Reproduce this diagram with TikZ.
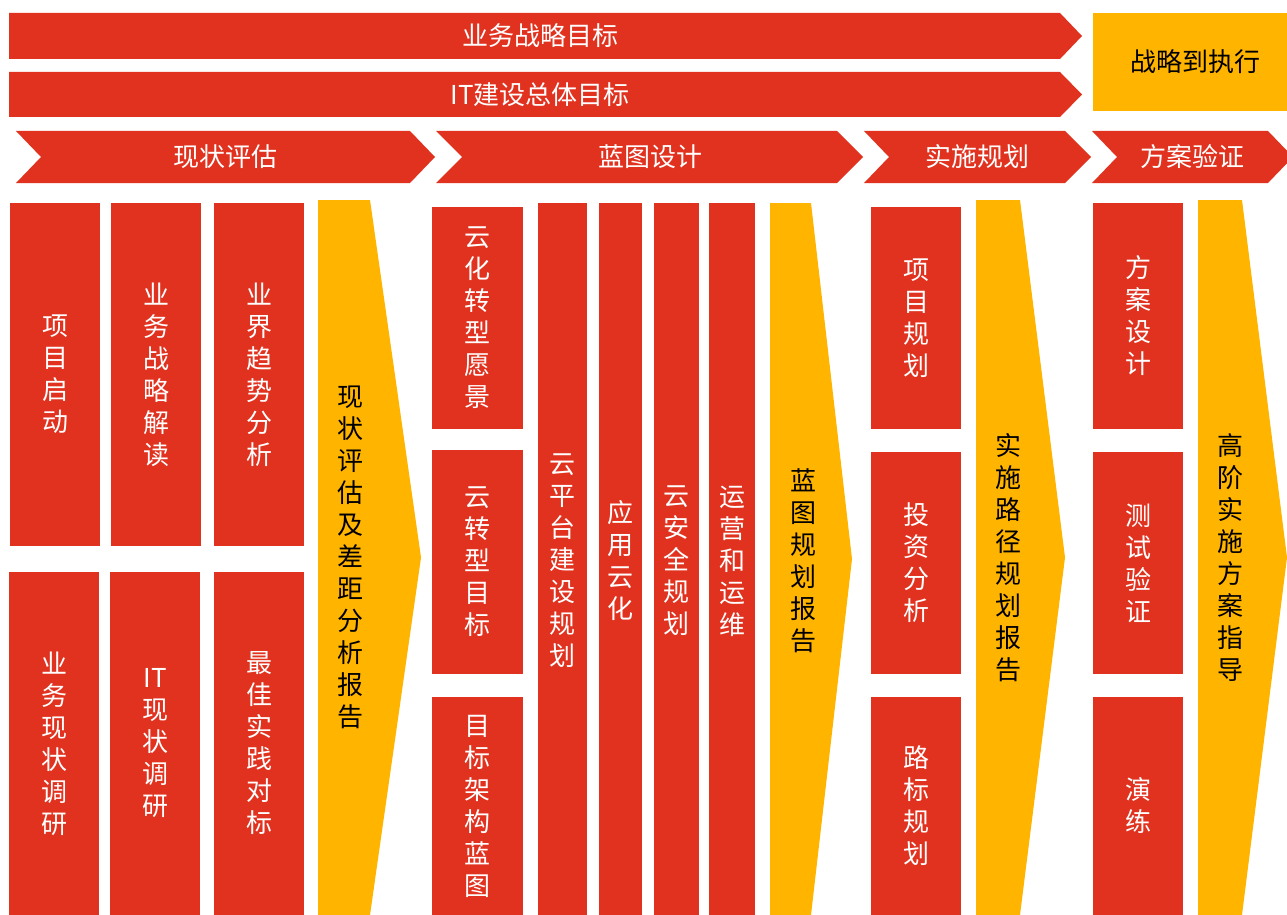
\documentclass[tikz,border=0pt]{standalone}
\usepackage{fontspec}
\newfontfamily\cjk{Noto Sans CJK SC}
\definecolor{planred}{HTML}{E1321F}
\definecolor{planyellow}{HTML}{FFB400}

\tikzset{
  redfill/.style={fill=planred},
  yellowfill/.style={fill=planyellow},
  whitetext/.style={text=white, align=center, inner sep=0pt,
    font=\cjk\fontsize{26}{32}\selectfont},
  blacktext/.style={text=black, align=center, inner sep=0pt,
    font=\cjk\fontsize{26}{32}\selectfont}
}

\begin{document}
\begin{tikzpicture}[x=1pt,y=-1pt]
  \useasboundingbox (0,0) rectangle (1287,915);

  % Top banners
  \fill[redfill] (9,13) -- (1060,13) -- (1082,36) -- (1060,59) -- (9,59) -- cycle;
  \node[whitetext] (goalbiz) at (540,36) {业务战略目标};
  \fill[redfill] (9,72) -- (1060,72) -- (1082,94.5) -- (1060,117) -- (9,117) -- cycle;
  \node[whitetext] (goalit) at (540,94.5) {IT建设总体目标};

  % Strategy box
  \fill[yellowfill] (1093,13) rectangle (1287,111);
  \node[blacktext] (strategy) at (1195,62) {战略到执行};

  % Phase chevrons
  \fill[redfill] (16,131) -- (410,131) -- (435,157) -- (410,183) -- (16,183) -- (41,157) -- cycle;
  \node[whitetext] (phaseone) at (225,157) {现状评估};
  \fill[redfill] (436,131) -- (837,131) -- (863,157) -- (837,183) -- (436,183) -- (462,157) -- cycle;
  \node[whitetext] (phasetwo) at (650,157) {蓝图设计};
  \fill[redfill] (864,131) -- (1065,131) -- (1091,157) -- (1065,183) -- (864,183) -- (889,157) -- cycle;
  \node[whitetext] (phasethree) at (977,157) {实施规划};
  \fill[redfill] (1092,131) -- (1268,131) -- (1293,157) -- (1268,183) -- (1092,183) -- (1117,157) -- cycle;
  \node[whitetext] (phasefour) at (1192,157) {方案验证};

  % Phase 1 - assessment
  \fill[redfill] (10,203) rectangle (100,546);
  \node[whitetext] (kickoff) at (55,374.5) {项\\目\\启\\动};
  \fill[redfill] (111,203) rectangle (201,546);
  \node[whitetext] (bizread) at (156,374.5) {业\\务\\战\\略\\解\\读};
  \fill[redfill] (214,203) rectangle (304,546);
  \node[whitetext] (trend) at (259,374.5) {业\\界\\趋\\势\\分\\析};
  \fill[redfill] (9,572) rectangle (99,915);
  \node[whitetext] (bizstatus) at (54,743.5) {业\\务\\现\\状\\调\\研};
  \fill[redfill] (110,572) rectangle (200,915);
  \node[whitetext] (itstatus) at (155,743.5) {IT\\现\\状\\调\\研};
  \fill[redfill] (214,572) rectangle (304,915);
  \node[whitetext] (bestpractice) at (259,743.5) {最\\佳\\实\\践\\对\\标};
  \fill[yellowfill] (318,200) -- (370,200) -- (421,557.5) -- (370,915) -- (318,915) -- cycle;
  \node[blacktext] (reportone) at (350,557.5) {现\\状\\评\\估\\及\\差\\距\\分\\析\\报\\告};

  % Phase 2 - blueprint
  \fill[redfill] (432,207) rectangle (523,429);
  \node[whitetext] (vision) at (477.5,318) {云\\化\\转\\型\\愿\\景};
  \fill[redfill] (432,450) rectangle (523,674);
  \node[whitetext] (target) at (477.5,562) {云\\转\\型\\目\\标};
  \fill[redfill] (432,697) rectangle (523,915);
  \node[whitetext] (archmap) at (477.5,806) {目\\标\\架\\构\\蓝\\图};
  \fill[redfill] (538,203) rectangle (587,915);
  \node[whitetext] (platform) at (562.5,561) {云\\平\\台\\建\\设\\规\\划};
  \fill[redfill] (599,203) rectangle (642,915);
  \node[whitetext] (appcloud) at (620.5,561) {应\\用\\云\\化};
  \fill[redfill] (654,203) rectangle (699,915);
  \node[whitetext] (security) at (676.5,561) {云\\安\\全\\规\\划};
  \fill[redfill] (709,203) rectangle (755,915);
  \node[whitetext] (operation) at (732,561) {运\\营\\和\\运\\维};
  \fill[yellowfill] (770,203) -- (811,203) -- (852,559) -- (811,915) -- (770,915) -- cycle;
  \node[blacktext] (reporttwo) at (803,561) {蓝\\图\\规\\划\\报\\告};

  % Phase 3 - implementation planning
  \fill[redfill] (871,207) rectangle (961,429);
  \node[whitetext] (projplan) at (916,318) {项\\目\\规\\划};
  \fill[redfill] (871,452) rectangle (961,674);
  \node[whitetext] (invest) at (916,563) {投\\资\\分\\析};
  \fill[redfill] (871,697) rectangle (961,915);
  \node[whitetext] (roadmap) at (916,806) {路\\标\\规\\划};
  \fill[yellowfill] (976,200) -- (1020,200) -- (1065,557.5) -- (1020,915) -- (976,915) -- cycle;
  \node[blacktext] (reportthree) at (1008,557.5) {实\\施\\路\\径\\规\\划\\报\\告};

  % Phase 4 - verification
  \fill[redfill] (1093,203) rectangle (1183,429);
  \node[whitetext] (design) at (1138,316) {方\\案\\设\\计};
  \fill[redfill] (1093,452) rectangle (1183,674);
  \node[whitetext] (testing) at (1138,563) {测\\试\\验\\证};
  \fill[redfill] (1093,697) rectangle (1183,915);
  \node[whitetext] (drill) at (1138,806) {演\\练};
  \fill[yellowfill] (1198,200) -- (1242,200) -- (1287,557.5) -- (1242,915) -- (1198,915) -- cycle;
  \node[blacktext] (reportfour) at (1230,557.5) {高\\阶\\实\\施\\方\\案\\指\\导};
\end{tikzpicture}
\end{document}
